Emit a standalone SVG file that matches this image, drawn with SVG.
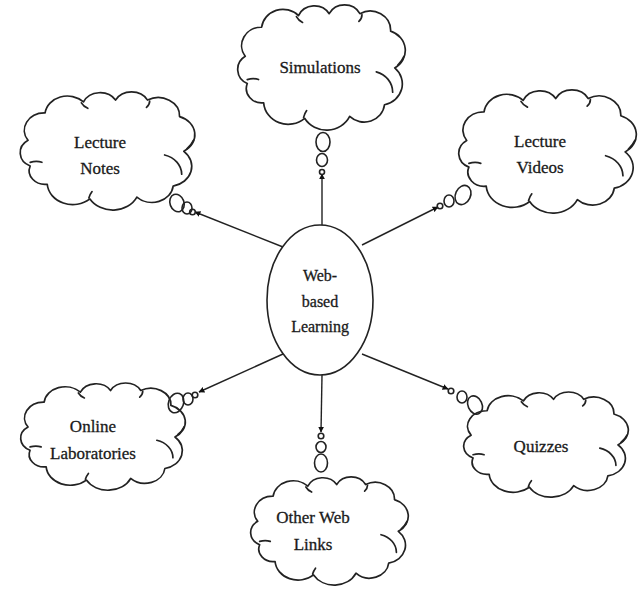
<svg xmlns="http://www.w3.org/2000/svg" width="639" height="589" viewBox="0 0 639 589">
<style>
.cl{fill:#fff;stroke:#222;stroke-width:1.7;vector-effect:non-scaling-stroke;stroke-linejoin:round}
.in{fill:none;stroke:#222;stroke-width:1.7;vector-effect:non-scaling-stroke;stroke-linecap:round}
.bb{fill:none;stroke:#222;stroke-width:1.6}
.ed{fill:none;stroke:#222;stroke-width:1.4;marker-end:url(#ah)}
text{font-family:"Liberation Serif","Times New Roman",serif;font-size:17px;fill:#1a1a1a;stroke:#1a1a1a;stroke-width:0.3;text-anchor:middle}
.c{font-size:16px}
</style>
<defs>
<marker id="ah" viewBox="0 0 10 10" refX="9" refY="5" markerWidth="6" markerHeight="6" orient="auto" markerUnits="userSpaceOnUse"><path d="M0,0 L10,5 L0,10 z" fill="#111"/></marker>
<g id="cloud">
<path class="cl" d="M-74,-10 A19,19 0 0 1 -58,-40 A21,21 0 0 1 -22,-52 A17,17 0 0 1 8,-54 A17,17 0 0 1 38,-54 A20,20 0 0 1 68,-36 A21,21 0 0 1 72,2 A22,22 0 0 1 62,40 A20,20 0 0 1 28,52 A25,25 0 0 1 -16,54 A24,24 0 0 1 -56,38 A15,15 0 0 1 -72,18 A16,16 0 0 1 -74,-10 Z"/>
<path class="in" d="M54,6 A22,22 0 0 1 70,27"/>
<path class="in" d="M81,-10 Q79,-5 75,-1"/>
<path class="in" d="M-72,14 Q-66,12 -61,14"/>
<path class="in" d="M-24,-51 Q-22,-47 -18,-45"/>
<path class="in" d="M40,-53 Q40,-49 37,-46"/>
<path class="in" d="M-17,53 Q-16,49 -14,46"/>
</g>
</defs>
<g id="connectors">
<line class="ed" x1="322" y1="225" x2="322" y2="174"/>
<line class="ed" x1="362" y1="245" x2="438" y2="207"/>
<line class="ed" x1="283" y1="247" x2="195" y2="212"/>
<line class="ed" x1="283" y1="354" x2="199" y2="392"/>
<line class="ed" x1="322" y1="375" x2="321" y2="432"/>
<line class="ed" x1="362" y1="354" x2="448" y2="389"/>
</g>
<g id="center">
<ellipse cx="320" cy="300" rx="53" ry="75" fill="#fff" stroke="#222" stroke-width="1.6"/>
<text class="c" x="320" y="281">Web-</text>
<text class="c" x="320" y="307">based</text>
<text class="c" x="320" y="332">Learning</text>
</g>
<g id="simulations">
<use href="#cloud" transform="translate(321,66) scale(1.024,0.969)"/>
<ellipse class="bb" cx="323" cy="142" rx="7" ry="9.5"/>
<ellipse class="bb" cx="322" cy="160" rx="5.5" ry="6.5"/>
<circle class="bb" cx="322" cy="172" r="2.5"/>
<text x="320" y="73">Simulations</text>
</g>
<g id="lecture-videos">
<use href="#cloud" transform="translate(547,150) scale(1.085,0.953)"/>
<ellipse class="bb" cx="463" cy="195" rx="7.5" ry="10" transform="rotate(25 463 195)"/>
<ellipse class="bb" cx="449" cy="201" rx="5" ry="6"/>
<circle class="bb" cx="440" cy="206" r="2.8"/>
<text x="540" y="147">Lecture</text>
<text x="540" y="173">Videos</text>
</g>
<g id="lecture-notes">
<use href="#cloud" transform="translate(107,149.5) scale(1.067,0.915)"/>
<ellipse class="bb" cx="177" cy="203" rx="7" ry="9" transform="rotate(-20 177 203)"/>
<ellipse class="bb" cx="187" cy="208" rx="5" ry="6"/>
<circle class="bb" cx="192.5" cy="212" r="2.8"/>
<text x="100" y="148">Lecture</text>
<text x="100" y="174">Notes</text>
</g>
<g id="online-laboratories">
<use href="#cloud" transform="translate(102.5,435.3) scale(1.006,0.83)"/>
<ellipse class="bb" cx="176" cy="403" rx="7.5" ry="10" transform="rotate(20 176 403)"/>
<ellipse class="bb" cx="188" cy="399" rx="5" ry="6"/>
<circle class="bb" cx="195" cy="395" r="2.8"/>
<text x="93" y="432">Online</text>
<text x="93" y="459">Laboratories</text>
</g>
<g id="other-web-links">
<use href="#cloud" transform="translate(329,529.7) scale(0.963,0.837)"/>
<ellipse class="bb" cx="321" cy="463" rx="6.5" ry="9"/>
<ellipse class="bb" cx="321" cy="447" rx="5" ry="5.5"/>
<circle class="bb" cx="321" cy="436" r="2.8"/>
<text x="313" y="523">Other Web</text>
<text x="313" y="550">Links</text>
</g>
<g id="quizzes">
<use href="#cloud" transform="translate(545.5,443.3) scale(1.006,0.814)"/>
<ellipse class="bb" cx="475" cy="405" rx="7" ry="9.5" transform="rotate(-25 475 405)"/>
<ellipse class="bb" cx="462" cy="397" rx="5" ry="6"/>
<circle class="bb" cx="451" cy="391" r="2.8"/>
<text x="541" y="452">Quizzes</text>
</g>
</svg>
